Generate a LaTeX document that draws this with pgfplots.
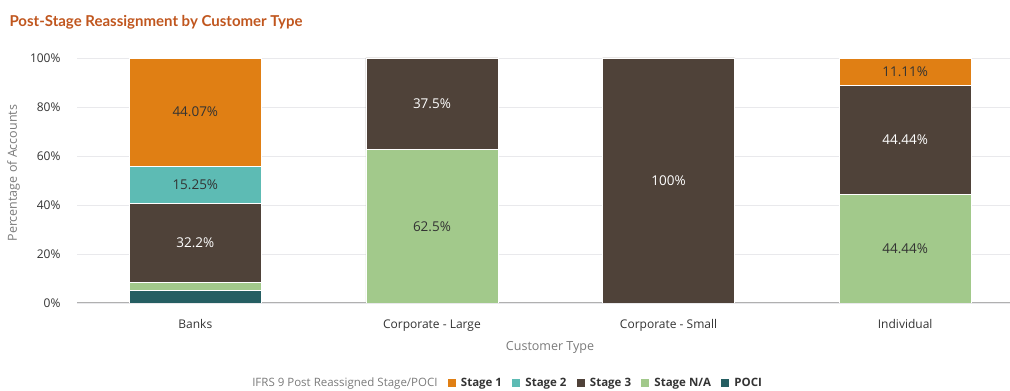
\documentclass[border=0pt]{standalone}
\usepackage{pgfplots}
\pgfplotsset{compat=1.18}
\usepackage{pgfplotstable}
\usepackage{fontspec}
\setmainfont{Open Sans}
\newfontfamily\titlefont{Lato}

\definecolor{stageone}{HTML}{E07F14}
\definecolor{stagetwo}{HTML}{5DBBB4}
\definecolor{stagethree}{HTML}{4F4239}
\definecolor{stagena}{HTML}{A2C98B}
\definecolor{poci}{HTML}{255E62}
\definecolor{titlecol}{HTML}{C0561E}
\definecolor{textdark}{HTML}{333333}
\definecolor{textgray}{HTML}{7A7A7A}
\definecolor{gridcol}{HTML}{E9E9EC}
\definecolor{axiscol}{HTML}{B0B0B0}

\newcommand\lgd{\fontsize{11.5}{13}\selectfont\bfseries\color{textdark}}

% share of accounts (%) per customer type, by reassigned stage
\pgfplotstableread{
x  poci  na     s3     s2     s1
0  5.08  3.39   32.20  15.25  44.07
1  0     62.50  37.50  0      0
2  0     0      100    0      0
3  0     44.44  44.44  0      11.11
}\datatable

\begin{document}
\begin{tikzpicture}
\useasboundingbox (0,0) rectangle (1010pt,391pt);
\begin{axis}[
  at={(77pt,88pt)}, anchor=south west,
  scale only axis, width=933pt, height=245pt,
  ybar stacked, bar width=132pt,
  xmin=-0.5, xmax=3.443, ymin=0, ymax=100,
  xtick={0,1,2,3},
  xticklabels={Banks, Corporate - Large, Corporate - Small, Individual},
  ytick={0,20,40,60,80,100},
  yticklabel={\pgfmathprintnumber{\tick}\%},
  /pgf/number format/assume math mode=true,
  major tick length=0pt,
  axis line style={draw=none},
  ymajorgrids, grid style={gridcol, line width=0.8pt},
  tick label style={font=\fontsize{12}{14}\selectfont, text=textdark},
  xticklabel style={anchor=base, yshift=-25pt},
  yticklabel style={anchor=base east, xshift=-13pt, yshift=-4.3pt},
  xlabel={Customer Type},
  ylabel={Percentage of Accounts},
  label style={font=\fontsize{12.5}{14}\selectfont, text=textgray},
  xlabel style={at={(axis description cs:0.507,-0.18)}, anchor=center},
  ylabel style={at={(axis description cs:-0.068,0.53)}, anchor=center},
  every axis plot/.append style={draw=white, line width=0.8pt},
  visualization depends on=rawy\as\rawy,
  nodes near coords={\ifdim\rawy pt>10pt \pgfmathprintnumber[precision=2]{\rawy}\%\fi},
  every node near coord/.append style={anchor=center,
    font=\fontsize{13.5}{15}\selectfont},
  legend style={at={(0.461,-0.327)}, anchor=center, draw=none, fill=none,
    legend columns=-1,
    /tikz/every even column/.append style={column sep=8pt}},
  legend image code/.code={\fill[#1, draw=none] (0pt,-4pt) rectangle (8pt,4pt);
    \path (11pt,0pt);},
  reverse legend,
]
\addplot[fill=poci, every node near coord/.append style={text=textdark}]
  table[x=x, y=poci] {\datatable};
\addlegendentry{\lgd POCI}
\addplot[fill=stagena, every node near coord/.append style={text=textdark}]
  table[x=x, y=na] {\datatable};
\addlegendentry{\lgd Stage N/A}
\addplot[fill=stagethree, every node near coord/.append style={text=white}]
  table[x=x, y=s3] {\datatable};
\addlegendentry{\lgd Stage 3}
\addplot[fill=stagetwo, every node near coord/.append style={text=textdark}]
  table[x=x, y=s2] {\datatable};
\addlegendentry{\lgd Stage 2}
\addplot[fill=stageone, every node near coord/.append style={text=textdark}]
  table[x=x, y=s1] {\datatable};
\addlegendentry{\lgd Stage 1}
\addlegendimage{empty legend}
\addlegendentry{\fontsize{11.5}{13}\selectfont\color{textgray}IFRS 9 Post Reassigned Stage/POCI\hspace{4pt}}
% baseline over the bars
\draw[axiscol, line width=1pt] (rel axis cs:0,0) -- (rel axis cs:1,0);
\end{axis}
\node[anchor=base west, text=titlecol, font=\titlefont\fontsize{15}{18}\selectfont\bfseries]
  at (6pt,364pt) {Post-Stage Reassignment by Customer Type};
\end{tikzpicture}
\end{document}
